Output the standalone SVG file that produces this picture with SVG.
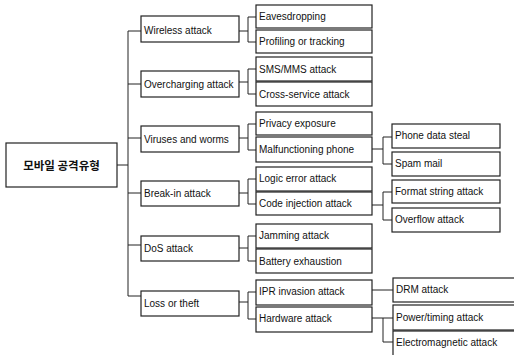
<svg xmlns="http://www.w3.org/2000/svg" width="514" height="355" viewBox="0 0 514 355">
<style>
rect{fill:#fff;stroke:#222;stroke-width:1.2}
text{font-family:"Liberation Sans","Noto Sans",sans-serif;font-size:10px;fill:#111}
.root{font-family:"Noto Sans CJK KR",sans-serif;font-size:11.5px;font-weight:bold}
#connectors path{fill:none;stroke:#222;stroke-width:1}
</style>
<rect x="0" y="0" width="514" height="355" style="fill:#fff;stroke:none"/>
<g id="connectors">
<path d="M117 165H128M128 31V296M128 31H141M128 84H141M128 138H141M128 193H141M128 245H141M128 296H141"/>
<path d="M239 31H248M248 17V42M248 17H256M248 42H256"/>
<path d="M239 82H248M248 69V94M248 69H256M248 94H256"/>
<path d="M239 138H248M248 124V150M248 124H256M248 150H256"/>
<path d="M239 193H248M248 179V204M248 179H256M248 204H256"/>
<path d="M239 248H248M248 236V261M248 236H256M248 261H256"/>
<path d="M239 302H248M248 292V319M248 292H256M248 319H256"/>
<path d="M372 149H383M383 137V164M383 137H392M383 164H392"/>
<path d="M372 205H383M383 192V220M383 192H392M383 220H392"/>
<path d="M372 290H393"/>
<path d="M372 318H393M383 318V342H393"/>
</g>
<g id="root"><rect x="6" y="143" width="111" height="44"/><text class="root" x="61.5" y="169.5" text-anchor="middle">모바일 공격유형</text></g>
<g id="wireless"><rect x="141" y="16" width="98" height="26"/><text x="144" y="33.5">Wireless attack</text></g>
<g id="overcharging"><rect x="141" y="71" width="98" height="26"/><text x="144" y="87.5">Overcharging attack</text></g>
<g id="viruses"><rect x="141" y="126" width="98" height="26"/><text x="144" y="142.5">Viruses and worms</text></g>
<g id="breakin"><rect x="141" y="181" width="98" height="25"/><text x="144" y="197">Break-in attack</text></g>
<g id="dos"><rect x="141" y="236" width="98" height="25"/><text x="144" y="252">DoS attack</text></g>
<g id="loss"><rect x="141" y="291" width="98" height="25"/><text x="144" y="307">Loss or theft</text></g>
<g id="eavesdropping"><rect x="256" y="5" width="116" height="23"/><text x="259" y="20">Eavesdropping</text></g>
<g id="profiling"><rect x="256" y="30" width="116" height="23"/><text x="259" y="45">Profiling or tracking</text></g>
<g id="sms"><rect x="256" y="57" width="116" height="24"/><text x="259" y="73">SMS/MMS attack</text></g>
<g id="cross"><rect x="256" y="82" width="116" height="24"/><text x="259" y="98">Cross-service attack</text></g>
<g id="privacy"><rect x="256" y="112" width="116" height="23"/><text x="259" y="127">Privacy exposure</text></g>
<g id="malfunctioning"><rect x="256" y="137" width="116" height="25"/><text x="259" y="153">Malfunctioning phone</text></g>
<g id="logic"><rect x="256" y="167" width="116" height="24"/><text x="259" y="182">Logic error attack</text></g>
<g id="code"><rect x="256" y="192" width="116" height="23"/><text x="259" y="207">Code injection attack</text></g>
<g id="jamming"><rect x="256" y="224" width="116" height="24"/><text x="259" y="239">Jamming attack</text></g>
<g id="battery"><rect x="256" y="249" width="116" height="24"/><text x="259" y="265">Battery exhaustion</text></g>
<g id="ipr"><rect x="256" y="280" width="116" height="25"/><text x="259" y="295">IPR invasion attack</text></g>
<g id="hardware"><rect x="256" y="307" width="116" height="25"/><text x="259" y="322">Hardware attack</text></g>
<g id="phonedata"><rect x="392" y="124" width="108" height="24"/><text x="395" y="139">Phone data steal</text></g>
<g id="spam"><rect x="392" y="152" width="108" height="24"/><text x="395" y="167">Spam mail</text></g>
<g id="format"><rect x="392" y="180" width="108" height="23"/><text x="395" y="195">Format string attack</text></g>
<g id="overflow"><rect x="392" y="208" width="108" height="24"/><text x="395" y="223">Overflow attack</text></g>
<g id="drm"><rect x="393" y="278" width="125" height="24"/><text x="396" y="293">DRM attack</text></g>
<g id="power"><rect x="393" y="305" width="125" height="25"/><text x="396" y="321">Power/timing attack</text></g>
<g id="electro"><rect x="393" y="331" width="125" height="30"/><text x="396" y="346">Electromagnetic attack</text></g>
</svg>
